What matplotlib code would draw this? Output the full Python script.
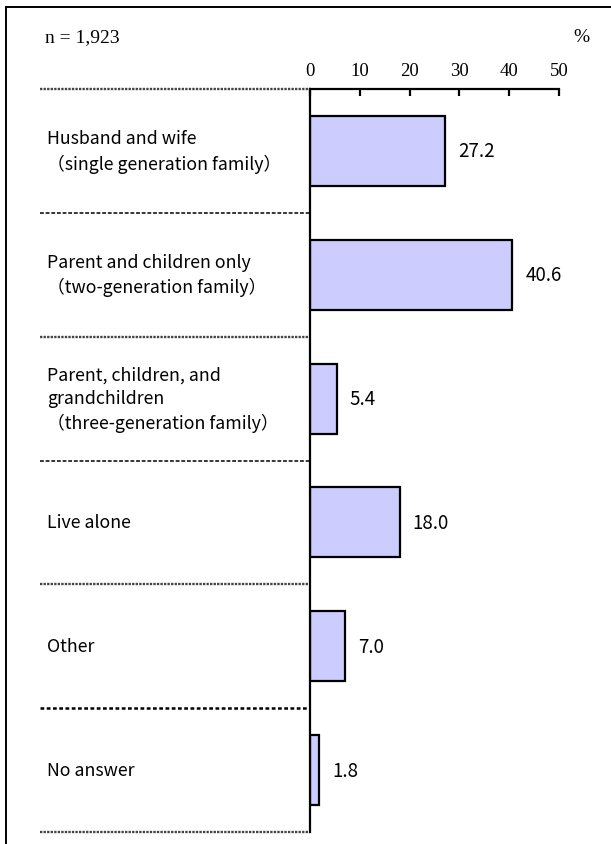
import matplotlib
matplotlib.use("Agg")
import matplotlib.pyplot as plt
from matplotlib.lines import Line2D

# household composition, n = 1,923
categories = [
    "Husband and wife\n（single generation family）",
    "Parent and children only\n（two-generation family）",
    "Parent, children, and\ngrandchildren\n（three-generation family）",
    "Live alone",
    "Other",
    "No answer",
]
values = [27.2, 40.6, 5.4, 18.0, 7.0, 1.8]
xticks = [0, 10, 20, 30, 40, 50]
n_label = "n = 1,923"

W, H = 611, 845
fig = plt.figure(figsize=(W / 100, H / 100), dpi=100)

def fx(px):
    return px / W

def fy(py):
    return 1 - py / H

ax = fig.add_axes([fx(310), fy(833), fx(559) - fx(310), fy(90) - fy(833)])

rows = list(range(len(values)))
ax.barh([r + 0.5 for r in rows], values, height=0.565,
        color="#ccccff", edgecolor="black", linewidth=1.6)

ax.set_xlim(0, 50)
ax.set_ylim(len(values), 0)
ax.set_xticks(xticks)
ax.set_yticks([])
ax.xaxis.tick_top()
ax.tick_params(axis="x", direction="in", length=5, width=1.6, pad=7,
               labelsize=13.5)
for lab in ax.get_xticklabels():
    lab.set_fontfamily("Liberation Serif")
for s in ["right", "bottom"]:
    ax.spines[s].set_visible(False)
ax.spines["top"].set_linewidth(1.6)
ax.spines["left"].set_linewidth(1.6)

# value labels
for r, v in zip(rows, values):
    ax.text(v + 2.6, r + 0.5, f"{v:.1f}", va="center", ha="left",
            fontsize=13.5, family=["Noto Sans CJK JP", "DejaVu Sans"])

# category labels
tr = ax.get_yaxis_transform()
x_lab = (47 - 310) / (559 - 310)
for r, c in zip(rows, categories):
    ax.text(x_lab, r + 0.5, c, transform=tr, ha="left", va="center",
            fontsize=12.8, linespacing=1.4,
            family=["Noto Sans CJK JP", "DejaVu Sans"])

# separators between rows
x0 = (40 - 310) / (559 - 310)
styles = [
    dict(color="#444444", linestyle=(0, (1.0, 0.5)), linewidth=1.7),
    dict(color="black", linestyle=(0, (2.5, 1.2)), linewidth=1.1),
]
for k in range(len(values) + 1):
    st = styles[k % 2]
    if k == 5:
        st = dict(color="black", linestyle=(0, (1.5, 1.0)), linewidth=1.8)
    ax.plot([x0, 0], [k, k], transform=tr, clip_on=False, **st)

# outer frame (cut off on right and bottom)
fig.add_artist(Line2D([fx(6), 1], [fy(8), fy(8)], color="black", linewidth=1.4))
fig.add_artist(Line2D([fx(6), fx(6)], [fy(8), 0], color="black", linewidth=1.4))

fig.text(fx(45), fy(38), n_label, ha="left", va="center", fontsize=14,
         family="Liberation Serif")
fig.text(fx(581), fy(38), "%", ha="center", va="center", fontsize=14,
         family="Liberation Serif")

fig.savefig("out.png", dpi=100)
